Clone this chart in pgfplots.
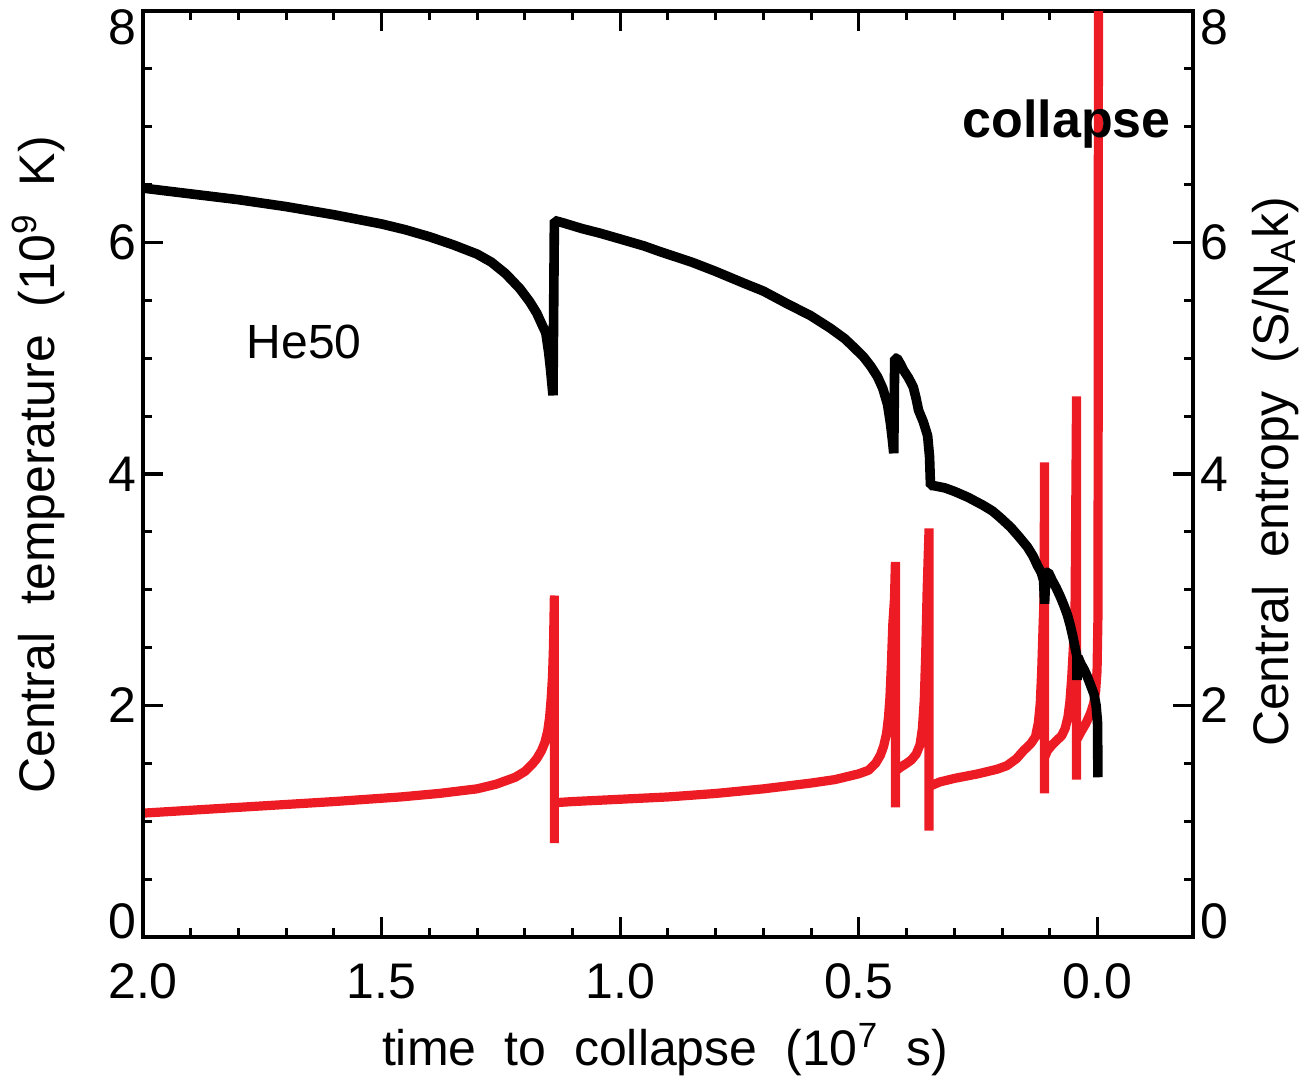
\documentclass[border=0pt]{standalone}
\usepackage{fontspec}
\setmainfont{Liberation Sans}
\usepackage{pgfplots}
\pgfplotsset{compat=1.18}
\definecolor{myred}{RGB}{237,28,36}
\newcommand{\labfont}{\fontsize{25}{28}\selectfont\spaceskip=14pt\relax}

\pgfplotstableread{
x y
2.000 1.07
1.800 1.12
1.600 1.17
1.460 1.21
1.380 1.24
1.300 1.28
1.260 1.32
1.220 1.38
1.200 1.43
1.185 1.49
1.175 1.54
1.165 1.61
1.158 1.68
1.152 1.78
1.148 1.90
1.145 2.05
1.142 2.25
1.140 2.50
1.138 2.95
1.138 0.81
1.138 1.16
1.100 1.17
1.000 1.19
0.900 1.21
0.800 1.24
0.700 1.28
0.600 1.33
0.550 1.36
0.500 1.41
0.480 1.44
0.465 1.50
0.455 1.57
0.448 1.65
0.442 1.76
0.438 1.90
0.435 2.07
0.432 2.35
0.429 2.70
0.4255 2.92
0.4235 3.24
0.4235 1.12
0.4235 1.43
0.415 1.46
0.400 1.50
0.390 1.53
0.380 1.58
0.372 1.66
0.367 1.80
0.363 2.05
0.360 2.45
0.357 3.00
0.353 3.53
0.353 0.92
0.353 1.30
0.330 1.34
0.300 1.37
0.250 1.41
0.210 1.45
0.190 1.48
0.170 1.54
0.155 1.61
0.140 1.67
0.130 1.73
0.124 1.85
0.120 2.02
0.117 2.30
0.114 2.70
0.112 2.94
0.111 4.10
0.111 1.24
0.111 1.55
0.105 1.61
0.095 1.66
0.085 1.70
0.075 1.74
0.068 1.80
0.062 1.90
0.058 2.03
0.054 2.25
0.050 2.55
0.047 2.90
0.044 4.67
0.044 1.36
0.044 1.70
0.035 1.77
0.025 1.84
0.015 1.93
0.008 2.02
0.004 2.12
0.001 2.30
-0.001 2.80
-0.002 8.50
}\redtab

\pgfplotstableread{
x y
2.000 6.47
1.900 6.42
1.800 6.37
1.700 6.31
1.600 6.24
1.500 6.16
1.450 6.11
1.400 6.05
1.350 5.98
1.300 5.90
1.270 5.83
1.240 5.73
1.210 5.60
1.190 5.49
1.175 5.39
1.164 5.29
1.156 5.22
1.150 5.05
1.146 4.90
1.141 4.68
1.138 6.19
1.120 6.17
1.080 6.12
1.042 6.08
1.000 6.03
0.950 5.97
0.916 5.92
0.850 5.83
0.800 5.75
0.742 5.65
0.700 5.58
0.650 5.47
0.602 5.37
0.560 5.26
0.530 5.17
0.512 5.10
0.490 5.01
0.475 4.93
0.461 4.84
0.450 4.74
0.440 4.60
0.434 4.44
0.430 4.30
0.427 4.18
0.425 5.00
0.420 5.00
0.413 4.95
0.407 4.90
0.396 4.83
0.386 4.75
0.380 4.65
0.375 4.55
0.365 4.45
0.356 4.33
0.352 4.15
0.350 3.90
0.344 3.90
0.320 3.88
0.300 3.85
0.272 3.80
0.240 3.73
0.220 3.68
0.203 3.62
0.182 3.54
0.165 3.46
0.147 3.37
0.135 3.29
0.126 3.21
0.118 3.15
0.113 3.08
0.111 2.88
0.108 3.15
0.103 3.15
0.095 3.08
0.087 3.02
0.078 2.94
0.070 2.86
0.063 2.78
0.057 2.69
0.052 2.60
0.047 2.50
0.043 2.42
0.043 2.22
0.041 2.42
0.035 2.36
0.028 2.31
0.0215 2.25
0.015 2.18
0.0076 2.10
0.003 2.00
0.000 1.85
-0.0008 1.38
}\blacktab

\pgfplotsset{
  common/.style={
    scale only axis, width=525pt, height=463pt,
    at={(0,0)}, anchor=south west,
    x dir=reverse, xmin=-0.2, xmax=2.0, ymin=0, ymax=8,
    xtick={0,0.5,1,1.5,2}, minor x tick num=4,
    ytick={0,2,4,6,8}, minor y tick num=3,
    tick align=inside,
    major tick length=10pt, minor tick length=4.7pt,
    tick style={black, line width=1.5pt},
    axis line style={line width=1.6pt},
    tick label style={font=\fontsize{25}{28}\selectfont},
    yticklabels={\raisebox{8pt}[\height][\depth]{0},2,4,6,\raisebox{-8pt}[\height][\depth]{8}},
    xticklabel style={yshift=-10pt},
  }
}

\begin{document}
\begin{tikzpicture}
\useasboundingbox (-71.5pt,-71pt) rectangle (581pt,468.5pt);
\begin{axis}[common, yticklabel pos=right,
  xticklabels={0.0,0.5,1.0,1.5,2.0}]
\addplot[myred, line width=4.6pt, line join=bevel] table[x=x,y=y] {\redtab};
\end{axis}
\begin{axis}[common, hide x axis, yticklabel pos=left]
\addplot[black, line width=4.8pt, line join=bevel] table[x=x,y=y] {\blacktab};
\node[anchor=base west, font=\fontsize{24}{28}\selectfont] at (axis cs:1.797,5.0) {He50};
\node[anchor=base east, font=\fontsize{26}{30}\selectfont\bfseries] at (axis cs:-0.168,6.91) {collapse};
\end{axis}
\node[rotate=90, anchor=base, font=\labfont] at (-44pt,236pt) {Central temperature (10\textsuperscript{9} K)};
\node[rotate=90, anchor=base, font=\labfont] at (572.5pt,232.5pt) {Central entropy (S/N\textsubscript{A}k)};
\node[anchor=base, font=\labfont] at (261pt,-64.5pt) {time to collapse (10\textsuperscript{7} s)};
\end{tikzpicture}
\end{document}
